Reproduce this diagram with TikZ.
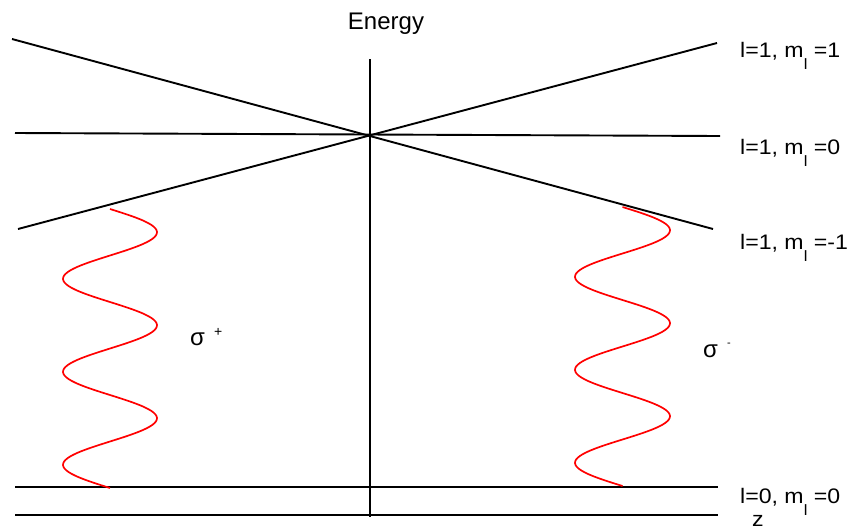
\documentclass[tikz,border=0pt]{standalone}
\usepackage{fontspec}
\setmainfont{Liberation Sans}
\newcommand\subl{\raisebox{-12pt}{\fontsize{15}{15}\selectfont l}}
\newcommand\lbltext[1]{\scalebox{1.1}[1]{#1}}
\begin{document}
\begin{tikzpicture}[x=1pt,y=-1pt,
  lvl/.style={line width=1.9pt, black},
  wave/.style={red, line width=1.7pt},
  lab/.style={anchor=base west, inner sep=0pt, font=\fontsize{21}{24}\selectfont},
]
\useasboundingbox (0,0) rectangle (854,531);
% level lines
\coordinate (dl) at (12,39);  \coordinate (dr) at (713,229);
\coordinate (al) at (18,229); \coordinate (ar) at (717,43);
\coordinate (hl) at (15,133); \coordinate (hr) at (720,136);
\coordinate (gl) at (15,487); \coordinate (gr) at (718,487);
\coordinate (zl) at (15,515); \coordinate (zr) at (718,515);
\coordinate (vt) at (370,59); \coordinate (vb) at (370,517);
\draw[lvl] (dl) -- (dr);
\draw[lvl] (al) -- (ar);
\draw[lvl] (hl) -- (hr);
\draw[lvl] (gl) -- (gr);
\draw[lvl] (zl) -- (zr);
\draw[lvl] (vt) -- (vb);
% waves
\draw[wave] plot[domain=209:488, samples=160, smooth] ({110+47*sin(3.871*(\x-209))}, \x);
\draw[wave] plot[domain=207:486, samples=160, smooth] ({622.5+47.5*sin(3.871*(\x-207))}, \x);
% labels
\node[anchor=base, inner sep=0pt, font=\fontsize{24}{27}\selectfont] (energy) at (386,29) {Energy};
\node[lab] (l1) at (740,57) {\lbltext{l=1, m\subl\ =1}};
\node[lab] (l2) at (740,154) {\lbltext{l=1, m\subl\ =0}};
\node[lab] (l3) at (740,249) {\lbltext{l=1, m\subl\ =-1}};
\node[lab] (l4) at (740,503) {\lbltext{l=0, m\subl\ =0}};
\node[lab] (z) at (752,526) {\lbltext{z}};
\node[lab, font=\fontsize{24}{27}\selectfont] (sp) at (190,345) {σ\hspace{9pt}\raisebox{9pt}{\fontsize{14}{14}\selectfont +}};
\node[lab, font=\fontsize{24}{27}\selectfont] (sm) at (703,357) {σ\hspace{9pt}\raisebox{11pt}{\fontsize{11}{11}\selectfont -}};
\end{tikzpicture}
\end{document}
